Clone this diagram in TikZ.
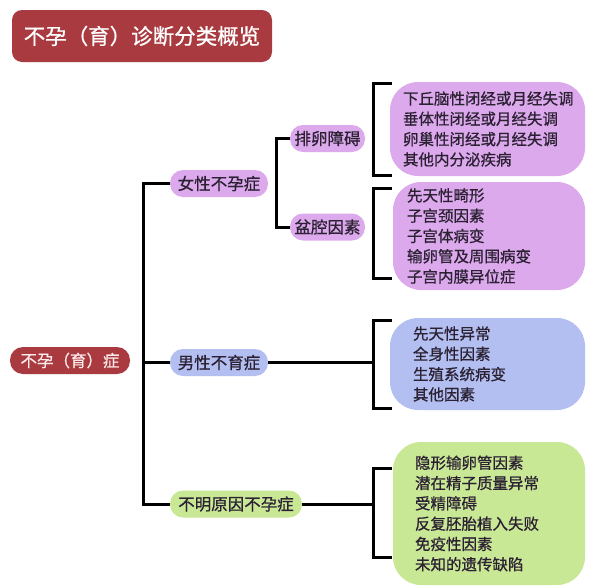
\documentclass[tikz,border=0pt]{standalone}
\usepackage{fontspec}
\setmainfont{Noto Sans CJK SC}[FakeBold=0.8]
\definecolor{redbox}{HTML}{A93B40}
\definecolor{lilac}{HTML}{DCA9EC}
\definecolor{bluebox}{HTML}{B3BFF0}
\definecolor{greenbox}{HTML}{C9E896}
\definecolor{ink}{HTML}{2B2133}
\begin{document}
\begin{tikzpicture}[x=1pt,y=-1pt,
    tag/.style={rounded corners=13pt, minimum height=27pt, inner sep=0pt,
      text=ink, font=\fontsize{16.5}{18}\selectfont},
    group/.style={rounded corners=28pt, inner ysep=0pt, align=left,
      text=ink, font=\fontsize{15.5}{20.3}\selectfont},
    line/.style={line width=3pt, black}]
  \useasboundingbox (0,0) rectangle (590,587);
  % title and root
  \node[tag, fill=redbox, text=white, minimum width=260pt, minimum height=52pt,
    rounded corners=10pt, font=\fontsize{21.5}{24}\selectfont] (title) at (142,36)
    {不孕（育）诊断分类概览};
  \node[tag, fill=redbox, text=white!92!red, minimum width=120pt] (root) at (70,360.5)
    {不孕（育）症};
  % first level
  \node[tag, fill=lilac, minimum width=98pt] (female) at (219,183.5) {女性不孕症};
  \node[tag, fill=bluebox, minimum width=98pt] (male) at (219,362.5) {男性不育症};
  \node[tag, fill=greenbox, minimum width=132pt] (unknown) at (236,504) {不明原因不孕症};
  % second level
  \node[tag, fill=lilac, minimum width=75pt] (ovul) at (327.5,138.5) {排卵障碍};
  \node[tag, fill=lilac, minimum width=75pt] (pelvic) at (327.5,227) {盆腔因素};
  \coordinate (trunk) at (143,0);
  \coordinate (fork) at (276,0);
  \coordinate (b1t) at (392,83);   \coordinate (b1b) at (392,175);
  \coordinate (b2t) at (392,188);  \coordinate (b2b) at (392,278);
  \coordinate (b3t) at (392,320);  \coordinate (b3b) at (392,408);
  \coordinate (b4t) at (392,468);  \coordinate (b4b) at (392,557);
  \begin{scope}[line]
    \draw (female.west) -- (female.west -| trunk) |- (unknown.west);
    \draw (male.west) -- (male.west -| trunk);
    \draw (ovul.west) -- (ovul.west -| fork) |- (pelvic.west);
    \draw (b1t) -- ++(-19,0) |- (b1b);
    \draw (b2t) -- ++(-19,0) |- (b2b);
    \draw (b3t) -- ++(-19,0) |- (b3b);
    \draw (b4t) -- ++(-19,0) |- (b4b);
    \draw (male.east) -- (male.east -| 373,0);
    \draw (unknown.east) -- (unknown.east -| 373,0);
  \end{scope}
  % lists
  \node[group, fill=lilac, minimum width=195pt, minimum height=94pt,
    inner xsep=13pt, text width=169pt] (ovullist) at (487.5,129)
    {下丘脑性闭经或月经失调\\垂体性闭经或月经失调\\卵巢性闭经或月经失调\\其他内分泌疾病};
  \node[group, fill=lilac, minimum width=192pt, minimum height=108pt,
    inner xsep=14pt, text width=164pt] (pelviclist) at (489,236)
    {先天性畸形\\子宫颈因素\\子宫体病变\\输卵管及周围病变\\子宫内膜异位症};
  \node[group, fill=bluebox, minimum width=195pt, minimum height=92pt,
    inner xsep=23pt, text width=149pt] (malelist) at (487.5,364)
    {先天性异常\\全身性因素\\生殖系统病变\\其他因素};
  \node[group, fill=greenbox, minimum width=192pt, minimum height=143pt,
    inner xsep=22pt, text width=148pt] (unknownlist) at (489,513.5)
    {隐形输卵管因素\\潜在精子质量异常\\受精障碍\\反复胚胎植入失败\\免疫性因素\\未知的遗传缺陷};
\end{tikzpicture}
\end{document}
